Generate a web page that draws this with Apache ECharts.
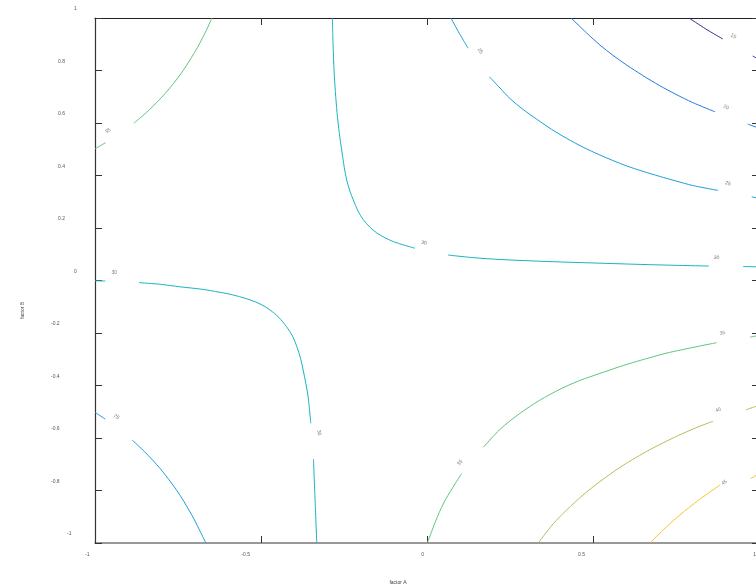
<!DOCTYPE html>
<html>
<head>
<meta charset="utf-8">
<title>factor A / factor B contour</title>
<script src="https://cdn.jsdelivr.net/npm/echarts@6/dist/echarts.min.js"></script>
<style>
  html, body { margin: 0; padding: 0; background: #fff; }
  #chart { width: 756px; height: 585px; }
</style>
</head>
<body>
<div id="chart"></div>
<script>
// Contour levels of the response, and the traced iso-lines for each level.
// Every contour is a list of segments of [factor A, factor B] points; the
// segments break where the inline level label sits.
const levels = [15, 20, 25, 30, 35, 40, 45];

const contour15 = [
  [[0.789, 1.0], [0.84, 0.958], [0.891, 0.92]],
  [[0.981, 0.855], [1.0, 0.843]]
];
const contour20 = [
  [[0.434, 1.0], [0.48, 0.944], [0.521, 0.897], [0.56, 0.858], [0.6, 0.822], [0.65, 0.781],
   [0.7, 0.743], [0.75, 0.709], [0.8, 0.678], [0.867, 0.643]],
  [[0.966, 0.596], [1.0, 0.58]]
];
const contour25 = [
  [[0.072, 1.0], [0.098, 0.94], [0.124, 0.885]],
  [[0.188, 0.776], [0.22, 0.733], [0.25, 0.693], [0.29, 0.651], [0.33, 0.615], [0.375, 0.576],
   [0.42, 0.542], [0.47, 0.508], [0.521, 0.478], [0.56, 0.457], [0.6, 0.437], [0.65, 0.416],
   [0.7, 0.397], [0.75, 0.379], [0.8, 0.362], [0.877, 0.343]],
  [[0.978, 0.319], [1.0, 0.312]],
  [[-1.0, -0.502], [-0.969, -0.528]],
  [[-0.888, -0.608], [-0.85, -0.653], [-0.804, -0.716], [-0.77, -0.771], [-0.744, -0.818],
   [-0.72, -0.868], [-0.7, -0.913], [-0.684, -0.954], [-0.666, -1.0]]
];
const contour30 = [
  [[-0.285, 1.0], [-0.283, 0.9], [-0.28, 0.8], [-0.276, 0.72], [-0.271, 0.64], [-0.264, 0.56],
   [-0.257, 0.497], [-0.249, 0.43], [-0.242, 0.383], [-0.232, 0.34], [-0.222, 0.307],
   [-0.208, 0.265], [-0.192, 0.232], [-0.172, 0.203], [-0.151, 0.181], [-0.127, 0.163],
   [-0.101, 0.148], [-0.07, 0.135], [-0.036, 0.123]],
  [[0.063, 0.097], [0.14, 0.087], [0.22, 0.08], [0.37, 0.072], [0.521, 0.066], [0.68, 0.06], [0.849, 0.055]],
  [[0.952, 0.053], [1.0, 0.052]],
  [[-1.0, -0.001], [-0.969, -0.002]],
  [[-0.867, -0.008], [-0.8, -0.015], [-0.744, -0.024], [-0.68, -0.033], [-0.623, -0.045],
   [-0.575, -0.058], [-0.533, -0.074], [-0.5, -0.091], [-0.473, -0.112], [-0.446, -0.141],
   [-0.423, -0.176], [-0.405, -0.212], [-0.392, -0.252], [-0.381, -0.296], [-0.373, -0.341],
   [-0.365, -0.392], [-0.358, -0.443], [-0.35, -0.544]],
  [[-0.342, -0.68], [-0.337, -0.84], [-0.332, -1.0]]
];
const contour35 = [
  [[-1.0, 0.502], [-0.968, 0.525]],
  [[-0.883, 0.599], [-0.84, 0.646], [-0.789, 0.712], [-0.74, 0.79], [-0.7, 0.869], [-0.684, 0.905],
   [-0.665, 0.952], [-0.648, 1.0]],
  [[0.001, -1.0], [0.025, -0.92], [0.05, -0.848], [0.077, -0.79], [0.104, -0.736]],
  [[0.17, -0.635], [0.22, -0.567], [0.28, -0.506], [0.34, -0.456], [0.401, -0.414], [0.46, -0.381],
   [0.521, -0.354], [0.581, -0.328], [0.63, -0.309], [0.68, -0.291], [0.72, -0.277],
   [0.767, -0.264], [0.82, -0.25], [0.872, -0.237]],
  [[0.973, -0.216], [1.0, -0.209]]
];
const contour40 = [
  [[0.335, -1.0], [0.38, -0.927], [0.42, -0.875], [0.47, -0.817], [0.521, -0.766], [0.581, -0.712],
   [0.63, -0.674], [0.672, -0.644], [0.72, -0.613], [0.77, -0.583], [0.82, -0.556], [0.862, -0.536]],
  [[0.96, -0.493], [1.0, -0.475]]
];
const contour45 = [
  [[0.672, -1.0], [0.72, -0.94], [0.762, -0.893], [0.82, -0.835], [0.883, -0.779]],
  [[0.975, -0.754], [1.0, -0.737]]
];

// Inline labels: [factor A, factor B, level]
const labelPoints = [
  [0.923, 0.931, 15],
  [0.901, 0.66, 20],
  [0.16, 0.874, 25],
  [0.906, 0.37, 25],
  [-0.935, -0.519, 25],
  [-0.009, 0.143, 30],
  [0.872, 0.087, 30],
  [-0.942, 0.029, 30],
  [-0.325, -0.58, 30],
  [-0.961, 0.57, 35],
  [0.099, -0.694, 35],
  [0.89, -0.201, 35],
  [0.877, -0.493, 40],
  [0.895, -0.77, 45]
];

// Axis tick values
const xTicks = [-1, -0.5, 0, 0.5, 1];
const yTicks = [-1, -0.8, -0.6, -0.4, -0.2, 0, 0.2, 0.4, 0.6, 0.8, 1];

// ---- styling ----
const FONT = 'Liberation Sans, Arial, Helvetica, sans-serif';
const levelColors = {
  15: '#3d2f92',
  20: '#1f7de0',
  25: '#1b9fdc',
  30: '#18b4bf',
  35: '#62c47e',
  40: '#bdbb58',
  45: '#f7c230'
};
// text angle of each inline label, following the line direction
const labelRotate = [-33, -25, -55, -17, -39, -10, -2, 0, -86, 34, 52, 10, 24, 35];

const contours = { 15: contour15, 20: contour20, 25: contour25, 30: contour30, 35: contour35, 40: contour40, 45: contour45 };

const series = [];
levels.forEach(function (lvl) {
  contours[lvl].forEach(function (seg) {
    series.push({
      type: 'line',
      xAxisIndex: 0,
      yAxisIndex: 0,
      data: seg,
      smooth: 0.3,
      showSymbol: false,
      symbol: 'none',
      silent: true,
      clip: true,
      lineStyle: { color: levelColors[lvl], width: 1 },
      z: 3
    });
  });
});

series.push({
  type: 'scatter',
  xAxisIndex: 0,
  yAxisIndex: 0,
  symbolSize: 0,
  silent: true,
  z: 5,
  data: labelPoints.map(function (p, i) {
    return {
      value: p,
      label: { rotate: labelRotate[i] }
    };
  }),
  label: {
    show: true,
    position: 'inside',
    formatter: function (p) { return String(p.value[2]); },
    fontSize: 5,
    fontFamily: FONT,
    color: '#555'
  }
});

function nChars(v) { return String(v).length; }

const option = {
  animation: false,
  backgroundColor: '#fff',
  grid: { left: 95, right: -3, top: 18, bottom: 42, containLabel: false, outerBoundsMode: 'none' },
  xAxis: [
    {
      type: 'value', min: xTicks[0], max: xTicks[xTicks.length - 1], interval: 0.5,
      position: 'bottom',
      name: 'factor A', nameLocation: 'middle', nameGap: 37,
      nameTextStyle: { fontSize: 5, color: '#444', fontFamily: FONT, padding: [0, 58, 0, 0] },
      axisLine: { onZero: false, lineStyle: { color: '#777', width: 1.5 } },
      axisTick: { inside: true, length: 7, lineStyle: { color: '#333' } },
      splitLine: { show: false },
      axisLabel: {
        margin: 9, align: 'right',
        formatter: function (v) { return '{p' + nChars(v) + '|' + v + '}'; },
        rich: {
          p1: { fontSize: 5, color: '#555', fontFamily: FONT, padding: [0, 3, 0, 0] },
          p2: { fontSize: 5, color: '#555', fontFamily: FONT, padding: [0, 5.5, 0, 0] },
          p3: { fontSize: 5, color: '#555', fontFamily: FONT, padding: [0, 8, 0, 0] },
          p4: { fontSize: 5, color: '#555', fontFamily: FONT, padding: [0, 11, 0, 0] }
        }
      }
    },
    {
      type: 'value', min: -1, max: 1, interval: 0.5, position: 'top',
      axisLine: { onZero: false, lineStyle: { color: '#222', width: 1.2 } },
      axisTick: { inside: true, length: 7, lineStyle: { color: '#333' } },
      axisLabel: { show: false },
      splitLine: { show: false }
    }
  ],
  yAxis: [
    {
      type: 'value', min: yTicks[0], max: yTicks[yTicks.length - 1], interval: 0.2,
      position: 'left',
      name: 'factor B', nameLocation: 'middle', nameGap: 70,
      nameTextStyle: { fontSize: 5, color: '#444', fontFamily: FONT, padding: [0, 60, 0, 0] },
      axisLine: { onZero: false, lineStyle: { color: '#333', width: 1.2 } },
      axisTick: { inside: true, length: 7, lineStyle: { color: '#333' } },
      splitLine: { show: false },
      axisLabel: {
        margin: 44, align: 'left',
        formatter: function (v) { return '{q' + nChars(v) + '|' + v + '}'; },
        rich: {
          q1: { fontSize: 5, color: '#555', fontFamily: FONT, padding: [0, 0, 18, 23] },
          q2: { fontSize: 5, color: '#555', fontFamily: FONT, padding: [0, 0, 18, 16] },
          q3: { fontSize: 5, color: '#555', fontFamily: FONT, padding: [0, 0, 18, 7] },
          q4: { fontSize: 5, color: '#555', fontFamily: FONT, padding: [0, 0, 18, 0] }
        }
      }
    },
    {
      type: 'value', min: -1, max: 1, interval: 0.2, position: 'right',
      axisLine: { onZero: false, lineStyle: { color: '#333', width: 1.2 } },
      axisTick: { inside: true, length: 7, lineStyle: { color: '#333' } },
      axisLabel: { show: false },
      splitLine: { show: false }
    }
  ],
  series: series
};

const chart = echarts.init(document.getElementById('chart'), null, { renderer: 'canvas' });
chart.setOption(option);
</script>
</body>
</html>
